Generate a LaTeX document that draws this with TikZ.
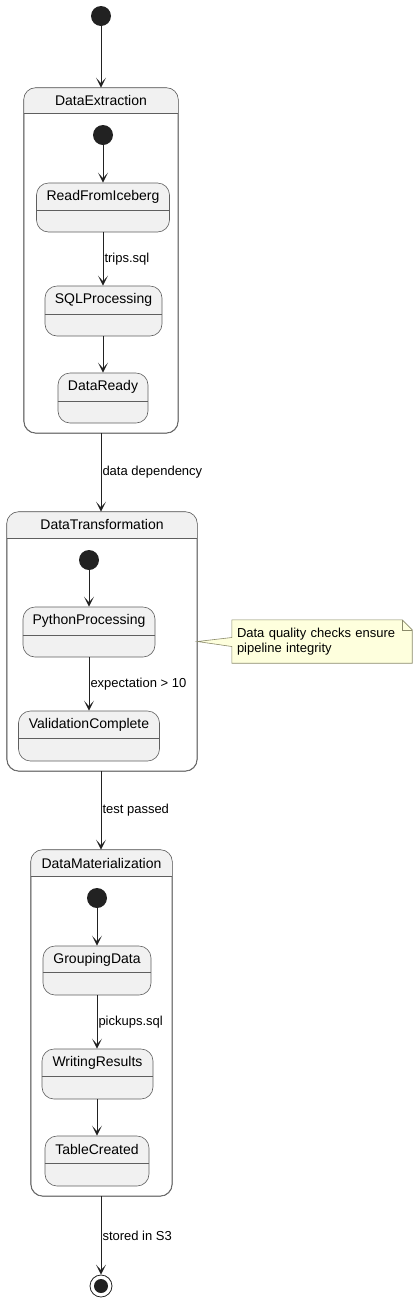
\documentclass[tikz,border=0pt]{standalone}
\usepackage{fontspec}
\setmainfont{Liberation Sans}
\usetikzlibrary{arrows.meta}
\definecolor{statefill}{HTML}{F1F1F1}
\definecolor{stateborder}{HTML}{5F5F5F}
\definecolor{startfill}{HTML}{222222}
\definecolor{notefill}{HTML}{FEFFDD}
\definecolor{noteborder}{HTML}{8A8A6A}
\tikzstyle{state}=[draw=stateborder, fill=statefill, rounded corners=12pt, line width=0.6pt, inner sep=0]
\tikzstyle{composite}=[draw=stateborder, fill=white, rounded corners=12pt, line width=0.6pt, inner sep=0]
\tikzstyle{state title}=[font=\fontsize{14}{16}\selectfont, inner sep=0]
\tikzstyle{divider}=[draw=stateborder, line width=0.6pt]
\tikzstyle{initial}=[circle, fill=startfill, minimum size=20pt, inner sep=0]
\tikzstyle{final outer}=[circle, draw=startfill, fill=white, line width=0.8pt, minimum size=22pt, inner sep=0]
\tikzstyle{final inner}=[circle, fill=startfill, minimum size=14pt, inner sep=0]
\tikzstyle{transition}=[draw=startfill, line width=1pt, -{Stealth[length=10pt, width=10pt, inset=5.5pt]}]
\tikzstyle{guard}=[font=\fontsize{13}{15}\selectfont, right, inner sep=1pt]
\tikzstyle{note}=[draw=noteborder, fill=notefill, line width=0.6pt]
\tikzstyle{note text}=[font=\fontsize{13}{15}\selectfont, align=left, text width=170pt, minimum width=180pt, minimum height=43pt, inner sep=5pt]

\begin{document}
\begin{tikzpicture}[x=1pt, y=-1pt]
      \useasboundingbox (0,0) rectangle (417,1302);

      % outer flow
      \node[initial] (start) at (101, 16) {};

      % DataExtraction
      \node[composite, minimum width=154pt, minimum height=345pt] (extraction) at (101, 260.5) {};
      \fill[statefill] ([yshift=-26pt]extraction.north west) [rounded corners=12pt] -- (extraction.north west)
        -- (extraction.north east) [sharp corners] -- ([yshift=-26pt]extraction.north east) -- cycle;
      \node[state title] at ([yshift=-13pt]extraction.north) {DataExtraction};
      \draw[divider] ([yshift=-26pt]extraction.north west) -- ([yshift=-26pt]extraction.north east);
      \draw[composite, fill=none] (extraction.north west) rectangle (extraction.south east);

      \node[initial] (extraction_start) at (103, 135) {};
      \node[state, minimum width=133pt, minimum height=49pt] (read) at (103, 207.5) {};
      \node[state title] at ([yshift=-14pt]read.north) {ReadFromIceberg};
      \draw[divider] ([yshift=-28pt]read.north west) -- ([yshift=-28pt]read.north east);
      \node[state, minimum width=117pt, minimum height=50pt] (sql) at (103.5, 311) {};
      \node[state title] at ([yshift=-14pt]sql.north) {SQLProcessing};
      \draw[divider] ([yshift=-29pt]sql.north west) -- ([yshift=-29pt]sql.north east);
      \node[state, minimum width=90pt, minimum height=50pt] (ready) at (103, 398) {};
      \node[state title] at ([yshift=-14pt]ready.north) {DataReady};
      \draw[divider] ([yshift=-29pt]ready.north west) -- ([yshift=-29pt]ready.north east);

      \draw[transition] (extraction_start) to (extraction_start |- read.north);
      \draw[transition] (read) to node[guard] {trips.sql} (read.south |- sql.north);
      \draw[transition] (sql.south -| read.south) to (read.south |- ready.north);

      % DataTransformation
      \node[composite, minimum width=190pt, minimum height=259pt] (transformation) at (102, 641.5) {};
      \fill[statefill] ([yshift=-27pt]transformation.north west) [rounded corners=12pt] -- (transformation.north west)
        -- (transformation.north east) [sharp corners] -- ([yshift=-27pt]transformation.north east) -- cycle;
      \node[state title] at ([yshift=-13pt]transformation.north) {DataTransformation};
      \draw[divider] ([yshift=-27pt]transformation.north west) -- ([yshift=-27pt]transformation.north east);
      \draw[composite, fill=none] (transformation.north west) rectangle (transformation.south east);

      \node[initial] (transformation_start) at (89, 560) {};
      \node[state, minimum width=132pt, minimum height=50pt] (python) at (89, 632) {};
      \node[state title] at ([yshift=-14pt]python.north) {PythonProcessing};
      \draw[divider] ([yshift=-29pt]python.north west) -- ([yshift=-29pt]python.north east);
      \node[state, minimum width=141pt, minimum height=50pt] (validation) at (89, 736) {};
      \node[state title] at ([yshift=-14pt]validation.north) {ValidationComplete};
      \draw[divider] ([yshift=-28pt]validation.north west) -- ([yshift=-28pt]validation.north east);

      \draw[transition] (transformation_start) to (python);
      \draw[transition] (python) to node[guard] {expectation > 10} (python.south |- validation.north);

      % note
      \node[note text] (quality_note) at (322, 641.5) {Data quality checks ensure\\pipeline integrity};
      \draw[note] (quality_note.north west) -- ([xshift=-10pt]quality_note.north east)
        -- ([yshift=-10pt]quality_note.north east) -- (quality_note.south east)
        -- (quality_note.south west) -- ([yshift=-5pt]quality_note.west)
        -- (transformation.east) -- ([yshift=4pt]quality_note.west) -- cycle;
      \draw[note, fill=none] ([xshift=-10pt]quality_note.north east) -- ([xshift=-10pt, yshift=-10pt]quality_note.north east)
        -- ([yshift=-10pt]quality_note.north east);
      \node[note text] at (quality_note) {Data quality checks ensure\\pipeline integrity};

      % DataMaterialization
      \node[composite, minimum width=141pt, minimum height=346pt] (materialization) at (101.5, 1023) {};
      \fill[statefill] ([yshift=-27pt]materialization.north west) [rounded corners=12pt] -- (materialization.north west)
        -- (materialization.north east) [sharp corners] -- ([yshift=-27pt]materialization.north east) -- cycle;
      \node[state title] at ([yshift=-14pt]materialization.north) {DataMaterialization};
      \draw[divider] ([yshift=-27pt]materialization.north west) -- ([yshift=-27pt]materialization.north east);
      \draw[composite, fill=none] (materialization.north west) rectangle (materialization.south east);

      \node[initial] (materialization_start) at (97, 898) {};
      \node[state, minimum width=108pt, minimum height=49pt] (grouping) at (97, 970.5) {};
      \node[state title] at ([yshift=-14pt]grouping.north) {GroupingData};
      \draw[divider] ([yshift=-27pt]grouping.north west) -- ([yshift=-27pt]grouping.north east);
      \node[state, minimum width=111pt, minimum height=50pt] (writing) at (97.5, 1074) {};
      \node[state title] at ([yshift=-14pt]writing.north) {WritingResults};
      \draw[divider] ([yshift=-28pt]writing.north west) -- ([yshift=-28pt]writing.north east);
      \node[state, minimum width=104pt, minimum height=50pt] (table) at (97, 1161) {};
      \node[state title] at ([yshift=-14pt]table.north) {TableCreated};
      \draw[divider] ([yshift=-28pt]table.north west) -- ([yshift=-28pt]table.north east);

      \draw[transition] (materialization_start) to (materialization_start |- grouping.north);
      \draw[transition] (grouping) to node[guard] {pickups.sql} (grouping.south |- writing.north);
      \draw[transition] (writing.south -| grouping.south) to (grouping.south |- table.north);

      % end
      \node[final outer] (stop) at (101, 1286) {};
      \node[final inner] at (stop) {};

      \draw[transition] (start) to (start.south |- extraction.north);
      \draw[transition] (extraction) to node[guard] {data dependency} (extraction.south |- transformation.north);
      \draw[transition] (transformation.south -| extraction.south) to node[guard] {test passed} (extraction.south |- materialization.north);
      \draw[transition] (materialization.south -| stop) to node[guard] {stored in S3} (stop);
    \end{tikzpicture}
\end{document}
